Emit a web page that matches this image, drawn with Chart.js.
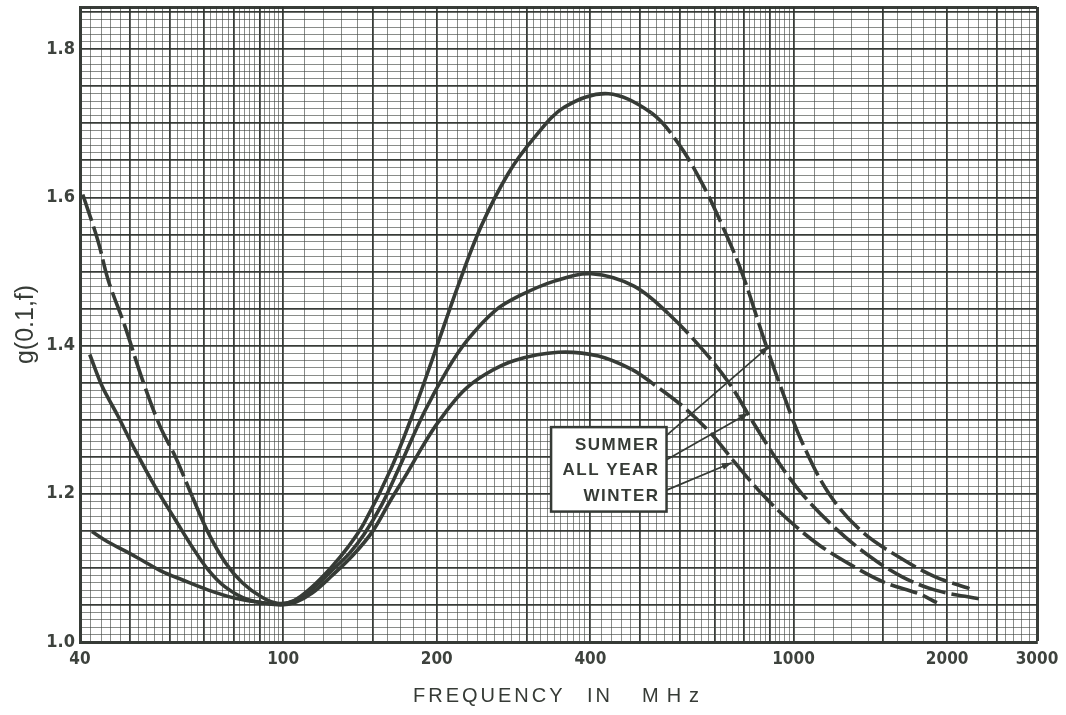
<!DOCTYPE html>
<html><head><meta charset="utf-8">
<script src="https://cdn.jsdelivr.net/npm/chart.js@4.4.1/dist/chart.umd.min.js"></script>
<style>html,body{margin:0;padding:0;background:#fff;}#wrap{width:1066px;height:715px;}</style>
</head><body><div id="wrap"><canvas id="c" width="1066" height="715"></canvas></div>
<script>
// ---- data ----
const summerFreq = [40.5, 43.4, 45.4, 49, 53, 57.4, 61.5, 66.4, 71.4, 77.1, 83.2, 91.1, 98, 105, 113, 124, 134, 144, 163, 180, 198, 220, 244, 276, 310, 356, 434, 527, 596, 661, 723, 792, 879, 949, 1039, 1174, 1362, 1633, 1896, 2212];
const summerG    = [1.604, 1.541, 1.489, 1.426, 1.354, 1.291, 1.25, 1.196, 1.147, 1.107, 1.080, 1.060, 1.052, 1.056, 1.072, 1.100, 1.128, 1.160, 1.235, 1.31, 1.39, 1.48, 1.56, 1.632, 1.680, 1.722, 1.74, 1.714, 1.672, 1.62, 1.564, 1.499, 1.405, 1.34, 1.27, 1.20, 1.149, 1.112, 1.088, 1.072];
const allYearFreq = [41.8, 44.2, 47.3, 51.3, 56.2, 61.5, 66.4, 71.4, 77.1, 85.5, 98, 105, 113, 124, 135, 144, 156, 168, 189, 210, 230, 260, 290, 340, 402, 488, 569, 661, 747, 829, 936, 1039, 1206, 1407, 1633, 1896, 2325];
const allYearG    = [1.388, 1.345, 1.307, 1.259, 1.209, 1.165, 1.128, 1.097, 1.074, 1.057, 1.051, 1.055, 1.069, 1.095, 1.120, 1.145, 1.185, 1.232, 1.310, 1.368, 1.408, 1.447, 1.467, 1.487, 1.497, 1.48, 1.443, 1.396, 1.35, 1.299, 1.242, 1.20, 1.154, 1.116, 1.088, 1.07, 1.058];
const winterFreq = [42.2, 45.4, 49, 53, 58, 63.4, 71.4, 80.6, 91.1, 99, 106, 114, 124, 137, 150, 162, 175, 188, 201, 225, 250, 284, 346, 415, 482, 527, 612, 692, 768, 867, 980, 1122, 1303, 1512, 1763, 1910];
const winterG    = [1.149, 1.135, 1.123, 1.11, 1.095, 1.084, 1.07, 1.059, 1.053, 1.050, 1.054, 1.066, 1.088, 1.117, 1.150, 1.190, 1.228, 1.265, 1.296, 1.338, 1.362, 1.380, 1.391, 1.386, 1.368, 1.35, 1.316, 1.28, 1.242, 1.20, 1.164, 1.131, 1.103, 1.08, 1.065, 1.053];

const xTickLabels = [40, 100, 200, 400, 1000, 2000, 3000];
const yTickLabels = ['1.0', '1.2', '1.4', '1.6', '1.8'];
const xRange = [40, 3000];
const yRange = [1.0, 1.857];
// grid paper: [from, to, step] in MHz
const xGridSteps = [[40, 100, 2], [100, 400, 10], [400, 1000, 20], [1000, 3000, 100]];
// callout
const calloutNames = ['SUMMER', 'ALL YEAR', 'WINTER'];
const calloutFrom = [[564, 1.279], [564, 1.246], [564, 1.205]];
const calloutTo   = [[895, 1.399], [817, 1.309], [757, 1.242]];
const calloutBox  = [335, 564, 1.176, 1.29]; // xmin, xmax, ymin, ymax
// dashed portions (MHz)
const summerDash = [62, 500];
const allYearDash = [0, 560];
const winterDash = [0, 440];

// ---- grid tick values ----
const xGrid = [];
xGridSteps.forEach(([a, b, s]) => { for (let v = a; v < b; v += s) xGrid.push(v); });
xGrid.push(3000);
const yGrid = [];
for (let k = 100; k <= 185; k++) yGrid.push(k / 100);
yGrid.push(yRange[1]);

const ink = '#363b36';
function xMajor(v) {
  if (v <= 100) return v % 10 === 0;
  if (v <= 200) return v % 50 === 0;
  if (v <= 1000) return v % 100 === 0;
  return v % 500 === 0;
}
function toXY(f, g) { return f.map((v, i) => ({ x: v, y: g[i] })); }
function dashSeg(range) {
  return { borderDash: c => { const x0 = c.p0.parsed.x; return (x0 < range[0] || x0 >= range[1]) ? [28, 6] : undefined; } };
}
const tickFont = '"Liberation Sans Narrow", "DejaVu Sans Condensed", "Liberation Sans", sans-serif';

const overlay = {
  id: 'overlay',
  afterDatasetsDraw(chart) {
    const { ctx, scales: { x, y }, chartArea } = chart;
    ctx.save();
    ctx.strokeStyle = ink; ctx.fillStyle = ink; ctx.lineWidth = 1.7;
    for (let i = 0; i < calloutFrom.length; i++) {
      const x1 = x.getPixelForValue(calloutFrom[i][0]), y1 = y.getPixelForValue(calloutFrom[i][1]);
      const x2 = x.getPixelForValue(calloutTo[i][0]), y2 = y.getPixelForValue(calloutTo[i][1]);
      ctx.beginPath(); ctx.moveTo(x1, y1); ctx.lineTo(x2, y2); ctx.stroke();
      const a = Math.atan2(y2 - y1, x2 - x1), L = 10, W = 3.5;
      ctx.beginPath();
      ctx.moveTo(x2, y2);
      ctx.lineTo(x2 - L * Math.cos(a) + W * Math.sin(a), y2 - L * Math.sin(a) - W * Math.cos(a));
      ctx.lineTo(x2 - L * Math.cos(a) - W * Math.sin(a), y2 - L * Math.sin(a) + W * Math.cos(a));
      ctx.closePath(); ctx.fill();
    }
    const bx0 = x.getPixelForValue(calloutBox[0]), bx1 = x.getPixelForValue(calloutBox[1]);
    const by0 = y.getPixelForValue(calloutBox[3]), by1 = y.getPixelForValue(calloutBox[2]);
    ctx.fillStyle = '#fff';
    ctx.fillRect(bx0, by0, bx1 - bx0, by1 - by0);
    ctx.lineWidth = 2.5; ctx.strokeRect(bx0, by0, bx1 - bx0, by1 - by0);
    ctx.fillStyle = ink;
    ctx.font = 'bold 17px "Liberation Sans", Arial, sans-serif';
    ctx.letterSpacing = '1.5px';
    ctx.textAlign = 'right'; ctx.textBaseline = 'middle';
    const h = by1 - by0, fr = [0.21, 0.51, 0.82];
    calloutNames.forEach((t, i) => ctx.fillText(t, bx1 - 7, by0 + h * fr[i]));
    // axis titles
    ctx.textAlign = 'left'; ctx.textBaseline = 'middle';
    ctx.font = '20px "Liberation Sans", Arial, sans-serif';
    const ty = chartArea.bottom + 54;
    ctx.letterSpacing = '3px';
    ctx.fillText('FREQUENCY', 413, ty);
    ctx.fillText('IN', 587, ty);
    ctx.letterSpacing = '8px';
    ctx.fillText('MHz', 642, ty);
    ctx.letterSpacing = '0px';
    ctx.translate(26, (chartArea.top + chartArea.bottom) / 2);
    ctx.rotate(-Math.PI / 2);
    ctx.textAlign = 'center';
    ctx.font = '25px "Liberation Sans", Arial, sans-serif';
    ctx.fillText('g(0.1,f)', 0, 0);
    ctx.restore();
  }
};

const common = { borderColor: ink, borderWidth: 3.6, pointRadius: 0, fill: false, tension: 0.35 };
new Chart(document.getElementById('c'), {
  type: 'line',
  data: {
    datasets: [
      { label: 'Summer', data: toXY(summerFreq, summerG), segment: dashSeg(summerDash), ...common },
      { label: 'All Year', data: toXY(allYearFreq, allYearG), segment: dashSeg(allYearDash), ...common },
      { label: 'Winter', data: toXY(winterFreq, winterG), segment: dashSeg(winterDash), ...common }
    ]
  },
  options: {
    responsive: false, animation: false,
    layout: { padding: { left: 0, right: 29, top: 7, bottom: 0 } },
    plugins: { legend: { display: false }, tooltip: { enabled: false } },
    scales: {
      x: {
        type: 'logarithmic', min: xRange[0], max: xRange[1],
        afterBuildTicks: s => { s.ticks = xGrid.map(v => ({ value: v })); },
        afterFit: s => { s.height = 73; s.paddingLeft = 0; s.paddingRight = 0; },
        grid: {
          drawTicks: false,
          color: c => (c.tick && (xMajor(c.tick.value) || c.tick.value === 3000)) ? 'rgba(45,50,45,0.95)' : 'rgba(65,70,65,0.62)',
          lineWidth: c => (c.tick && c.tick.value === 3000) ? 3 : (c.tick && xMajor(c.tick.value)) ? 1.8 : 1
        },
        border: { display: true, color: ink, width: 3 },
        ticks: {
          autoSkip: false, maxRotation: 0, minRotation: 0, padding: 7, color: '#3d423d',
          font: { family: tickFont, weight: 'bold', size: 17 },
          callback: v => xTickLabels.includes(v) ? String(v) : ''
        }
      },
      y: {
        type: 'linear', min: yRange[0], max: yRange[1],
        afterBuildTicks: s => { s.ticks = yGrid.map(v => ({ value: v })); },
        afterFit: s => { s.width = 80; s.paddingTop = 0; s.paddingBottom = 0; },
        grid: {
          drawTicks: false,
          color: c => { const k = Math.round(c.tick.value * 1000); return (k % 50 === 0 || c.tick.value === yRange[1]) ? 'rgba(45,50,45,0.95)' : 'rgba(65,70,65,0.62)'; },
          lineWidth: c => { if (c.tick.value === yRange[1]) return 3; const k = Math.round(c.tick.value * 1000); return k % 50 === 0 ? 1.8 : 1; }
        },
        border: { display: true, color: ink, width: 3 },
        ticks: {
          autoSkip: false, padding: 5, color: '#3d423d',
          font: { family: tickFont, weight: 'bold', size: 18 },
          callback: v => { const s = v.toFixed(1); return (Math.abs(v - parseFloat(s)) < 1e-6 && yTickLabels.includes(s)) ? s : ''; }
        }
      }
    }
  },
  plugins: [overlay]
});
</script></body></html>
